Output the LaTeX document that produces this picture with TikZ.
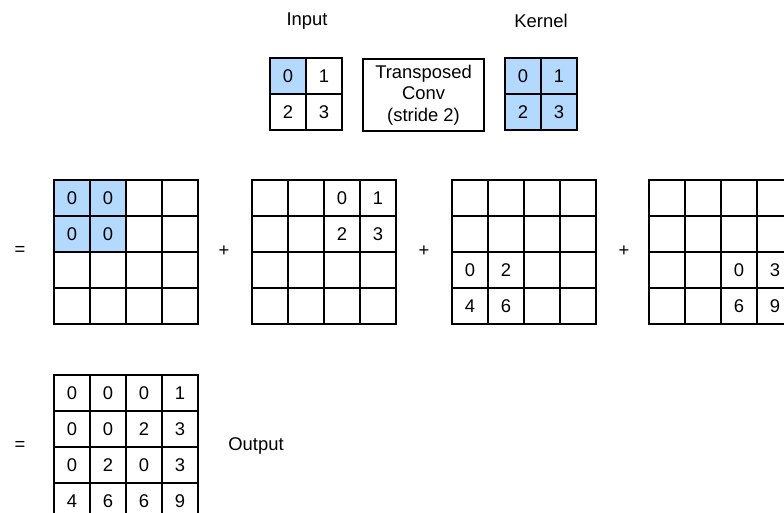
\documentclass[tikz,border=0pt]{standalone}
\usepackage{fontspec}
\setmainfont{Liberation Sans}
\definecolor{kblue}{RGB}{179,217,255}

\begin{document}
\begin{tikzpicture}[x=0.75pt, y=-0.75pt, font=\fontsize{13.8}{16}\selectfont]
        \tikzset{cell/.style={draw, line width=1.4pt, minimum size=27pt, inner sep=0pt}}
        \useasboundingbox (0,0) rectangle (784,513);
        %% Fondos azules
        \fill[kblue] (270,58) rectangle (306,94);
        \fill[kblue] (505,58) rectangle (577,130);
        \fill[kblue] (54,180) rectangle (126,252);
        %% Entrada y kernel
        \foreach \g/\x in {in/270, k/505}
          \foreach \r in {0,1}
            \foreach \c in {0,1}
              \node[cell] (\g-\r-\c) at ({\x+18+36*\c},{76+36*\r})
                {\pgfmathparse{int(2*\r+\c)}\pgfmathresult};
        \node[draw, line width=1.4pt, minimum width=90.75pt, minimum height=54pt,
              align=center, inner sep=0pt] (tconv) at (423.5,95) {Transposed\\Conv\\(stride 2)};
        \node (inlbl) at (307,21) {Input};
        \node (klbl)  at (541,21) {Kernel};
        %% Rejillas 4x4
        \foreach \g/\x/\y in {a/54/180, b/252/180, c/452/180, d/649/180, o/54/375}
          \foreach \r in {0,...,3}
            \foreach \c in {0,...,3}
              \node[cell] (\g-\r-\c) at ({\x+18+36*\c},{\y+18+36*\r}) {};
        %% Valores parciales
        \foreach \g/\r/\c/\v in {a/0/0/0, a/0/1/0, a/1/0/0, a/1/1/0,
                                 b/0/2/0, b/0/3/1, b/1/2/2, b/1/3/3,
                                 c/2/0/0, c/2/1/2, c/3/0/4, c/3/1/6,
                                 d/2/2/0, d/2/3/3, d/3/2/6, d/3/3/9}
          \node (\g v-\r-\c) at (\g-\r-\c) {\v};
        %% Salida
        \foreach \row [count=\r from 0] in {{0,0,0,1},{0,0,2,3},{0,2,0,3},{4,6,6,9}}
          \foreach \v [count=\c from 0] in \row
            \node (ov-\r-\c) at (o-\r-\c) {\v};
        \node (outlbl) at (256,446) {Output};
        %% Operadores
        \node (eq1) at (20,251)  {=};
        \node (pl1) at (224,251) {+};
        \node (pl2) at (424,251) {+};
        \node (pl3) at (624,251) {+};
        \node (eq2) at (20,446)  {=};
    \end{tikzpicture}
\end{document}
